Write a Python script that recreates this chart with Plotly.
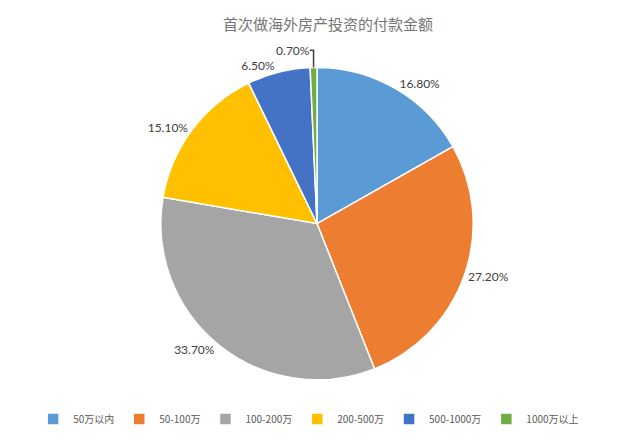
import plotly.graph_objects as go

categories = ["50万以内", "50-100万", "100-200万", "200-500万", "500-1000万", "1000万以上"]
shares = [16.8, 27.2, 33.7, 15.1, 6.5, 0.7]
colours = ["#5B9BD5", "#ED7D31", "#A5A5A5", "#FFC000", "#4472C4", "#70AD47"]

fig = go.Figure(go.Pie(
    labels=categories,
    values=shares,
    sort=False,
    direction="clockwise",
    rotation=0,
    marker=dict(colors=colours, line=dict(color="white", width=1.5)),
    texttemplate="%{value:.2f}%",
    textposition="outside",
    textfont=dict(size=12, color="#404040", family="Lato, sans-serif"),
    hovertemplate="%{label}: %{value:.2f}%<extra></extra>",
    domain=dict(x=[0.1, 0.9], y=[0.155, 0.865]),
))

fig.update_layout(
    width=640,
    height=440,
    paper_bgcolor="white",
    margin=dict(l=0, r=0, t=0, b=0),
    title=dict(
        text="首次做海外房产投资的付款金额",
        x=0.5, y=0.975, xanchor="center", yanchor="top",
        font=dict(size=15, color="#757575", family="Noto Sans CJK SC"),
    ),
    legend=dict(
        orientation="h",
        x=0.485, xanchor="center",
        y=0.033, yanchor="bottom",
        font=dict(size=10, color="#595959", family="Noto Sans CJK SC"),
        itemwidth=30,
        traceorder="normal",
    ),
    showlegend=True,
)

fig.write_html("out.html")
